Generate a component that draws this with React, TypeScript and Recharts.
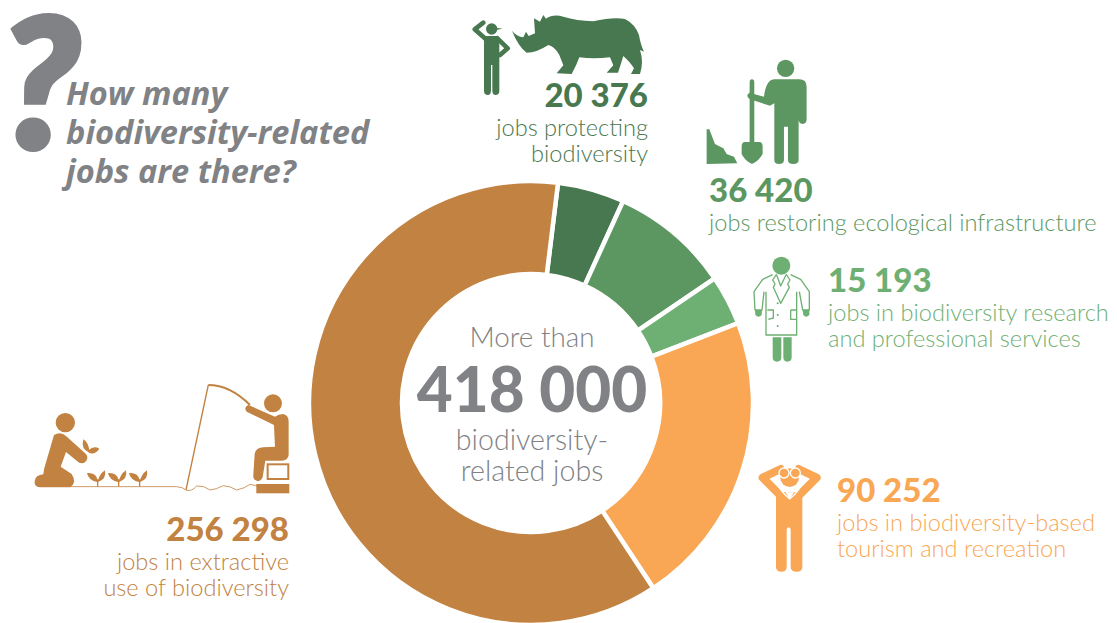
import { Cell, Pie, PieChart } from 'recharts'

const sectors = ['protecting', 'restoring', 'research', 'tourism', 'extractive']
const jobs = [20376, 36420, 15193, 90252, 256298]
const colours = ['#48784F', '#5C9762', '#6EB073', '#F9A754', '#C28241']
const grey = '#808285'
const font = 'Lato, sans-serif'

const jobLabels = ['20 376', '36 420', '15 193', '90 252', '256 298']
const captions = [
  ['jobs protecting', 'biodiversity'],
  ['jobs restoring ecological infrastructure'],
  ['jobs in biodiversity research', 'and professional services'],
  ['jobs in biodiversity-based', 'tourism and recreation'],
  ['jobs in extractive', 'use of biodiversity'],
]
const titleLines = ['How many', 'biodiversity-related', 'jobs are there?']
const centreLines = ['biodiversity-', 'related jobs']

const tableData = sectors.map((name, i) => ({ name, value: jobs[i] }))

function Callout({ i, x, y, anchor }: { i: number; x: number; y: number; anchor: 'start' | 'end' }) {
  return (
    <g fill={colours[i]} textAnchor={anchor} fontFamily={font}>
      <text x={x} y={y} fontSize={33} fontWeight={900}>{jobLabels[i]}</text>
      {captions[i].map((line, n) => (
        <text key={line} x={x} y={y + 29 + n * 25.5} fontSize={23.6} fontWeight={300}>{line}</text>
      ))}
    </g>
  )
}

// icons are traced at 3x, so each group scales back down
function RangerAndDigger() {
  return (
    <g transform="translate(460,0) scale(0.3333)">
      <g fill={colours[0]}>
        <circle cx={95} cy={87} r={17} />
        <path d="M95,82 L128,86 L95,92 Z" />
        <path d="M72,118 Q72,108 82,108 L108,108 Q118,108 118,118 L118,272 Q118,285 106,285 Q98,285 97,272 L97,195 L93,195 L93,272 Q92,285 84,285 Q72,285 72,272 Z" />
        <path d="M156,92 Q170,110 190,112 L198,95 L206,108 L225,100 L222,55 L240,65 L250,45 L258,56 Q280,40 310,50 Q350,62 400,64 Q460,50 495,57 Q525,72 537,105 Q542,135 552,155 L540,150 Q552,185 540,222 L513,222 L522,205 Q512,188 490,168 Q482,195 474,218 L440,218 L460,196 L450,172 Q400,178 358,172 Q350,195 335,222 L290,220 L310,196 L298,165 Q285,140 265,135 Q230,158 200,158 Q175,140 156,92 Z" />
      </g>
      <g fill="none" stroke={colours[0]} strokeWidth={14} strokeLinejoin="round" strokeLinecap="round">
        <path d="M78,118 L44,88 L70,68" />
        <path d="M112,115 L143,145 L120,165" />
      </g>
      <g fill={colours[1]}>
        <circle cx={977} cy={205} r={26} />
        <path d="M942,238 L1018,238 Q1040,238 1040,260 L1040,358 Q1040,372 1028,372 Q1016,372 1016,358 L1016,480 Q1016,492 1000,492 Q984,492 984,480 L984,380 L972,380 L972,480 Q972,492 957,492 Q943,492 943,480 L943,310 L930,317 L870,298 Q855,288 868,278 L912,290 Q918,240 942,238 Z" />
        <path d="M869,248 Q869,238 876,238 Q883,238 883,248 L883,426 L900,426 Q908,428 908,440 L908,462 Q895,485 876,492 Q857,485 845,462 L845,440 Q845,428 853,426 L869,426 Z" />
        <path d="M740,388 L748,388 L765,432 L790,445 L800,462 L822,470 L832,490 L740,492 Z" />
      </g>
    </g>
  )
}

const sproutXs = [233, 296, 359]

function Sprout({ x, y, scale = 1 }: { x: number; y: number; scale?: number }) {
  return (
    <g transform={`translate(${x},${y}) scale(${scale})`}>
      <path d="M0,28 Q-4,4 -32,6 Q-28,28 0,34 Z M0,34 Q4,10 22,-2 Q28,24 0,34 Z" />
      <rect x={-2} y={25} width={4} height={22} />
    </g>
  )
}

function GardenerAndFisher() {
  return (
    <g transform="translate(20,370) scale(0.3333)">
      <g fill={colours[4]}>
        <circle cx={136} cy={158} r={29} />
        <path d="M102,195 Q122,183 138,198 L198,252 Q208,265 195,277 Q182,284 170,272 L138,246 L122,290 L155,312 Q172,338 150,352 L60,352 Q42,350 44,333 Q46,315 70,313 L72,298 Z" />
        <path d="M190,208 Q208,218 208,248 Q182,238 190,208 Z M206,240 Q222,226 238,236 Q225,256 206,248 Z" />
        {sproutXs.map(x => <Sprout key={x} x={x} y={303} />)}
        <circle cx={759} cy={100} r={27} />
        <path d="M685,105 L765,140 Q775,132 790,132 Q806,136 806,155 L806,255 Q804,272 785,272 L736,272 L728,322 Q722,335 712,333 Q699,330 700,316 L704,252 Q708,232 730,232 L765,230 L762,165 L680,125 Q670,112 685,105 Z" />
        <rect x={709} y={342} width={99} height={28} />
      </g>
      <rect x={743} y={283} width={62} height={44} fill="none" stroke={colours[4]} strokeWidth={6} />
      <g fill="none" stroke={colours[4]}>
        <path d="M150,350 L470,350" strokeWidth={3} opacity={0.8} />
        <path d="M470,350 Q490,352 500,361 Q515,365 530,348 Q550,345 570,360 Q590,358 610,347 Q630,348 650,360 Q675,355 690,343 L712,348" strokeWidth={3} opacity={0.8} />
        <path d="M498,360 L565,45" strokeWidth={4} />
        <path d="M565,45 Q630,45 690,105" strokeWidth={6} />
      </g>
    </g>
  )
}

const buttonYs = [160, 195, 228]

function Scientist() {
  return (
    <g transform="translate(740,250) scale(0.3333)">
      <g fill={colours[2]}>
        <circle cx={124} cy={47} r={27} />
        <path d="M98,262 L124,262 L124,322 Q124,335 111,335 Q98,335 98,322 Z M130,262 L155,262 L155,322 Q155,335 142,335 Q130,335 130,322 Z" />
        <path d="M45,180 L66,180 L65,195 Q56,206 46,195 Z M188,180 L208,180 L208,195 Q198,206 190,195 Z" />
        {buttonYs.map(y => <circle key={y} cx={113} cy={y} r={3} />)}
      </g>
      <g fill="none" stroke={colours[2]} strokeWidth={4} strokeLinejoin="round">
        <path d="M98,74 L68,88 L42,125 L45,180 L66,180 L72,125 M152,74 L182,88 L208,125 L208,180 L188,180 L178,125" />
        <path d="M78,125 L78,255 L170,255 L170,125" />
        <path d="M110,72 L98,90 L105,102 L100,112 L122,160 L148,112 L143,102 L150,90 L138,72" />
        <path d="M110,75 L122,108 L138,75" />
        <path d="M82,180 L100,180 L100,204 L85,208 M152,180 L168,180 M152,180 L152,208 L168,208" />
      </g>
    </g>
  )
}

function Tourist() {
  return (
    <g transform="translate(750,455) scale(0.3333)">
      <g fill={colours[3]}>
        <path d="M78,112 L78,335 Q78,350 95,350 Q110,350 110,335 L110,222 Q116,212 122,222 L122,335 Q122,350 140,350 Q157,350 157,335 L157,112 Z" />
        <circle cx={119} cy={68} r={28} />
      </g>
      <path d="M88,118 L38,68 L92,42 M150,118 L200,68 L146,42" fill="none" stroke={colours[3]} strokeWidth={24} strokeLinejoin="round" strokeLinecap="round" />
      <path d="M78,72 Q84,104 119,132 Q154,104 160,72" fill="none" stroke="#fff" strokeWidth={4} />
      <g fill={colours[3]} stroke="#fff" strokeWidth={4}>
        <circle cx={102} cy={54} r={15} />
        <circle cx={136} cy={54} r={15} />
      </g>
      <path d="M106,112 L132,112 L119,132 Z" fill="#fff" />
    </g>
  )
}

export default function App() {
  return (
    <div style={{ position: 'absolute', left: 0, top: 0, width: 1117, height: 623, overflow: 'hidden', background: '#fff' }}>
      <PieChart width={1117} height={623} margin={{ top: 0, right: 0, bottom: 0, left: 0 }}>
        <Pie
          data={tableData}
          dataKey="value"
          nameKey="name"
          cx={531}
          cy={403}
          innerRadius={129}
          outerRadius={222}
          startAngle={83}
          endAngle={-277}
          stroke="#fff"
          strokeWidth={4.5}
          isAnimationActive={false}
        >
          {sectors.map((name, i) => <Cell key={name} fill={colours[i]} />)}
        </Pie>
      </PieChart>
      <svg width={1117} height={623} style={{ position: 'absolute', left: 0, top: 0, pointerEvents: 'none' }}>
        <text x={1} y={148} fontSize={180} fontWeight={900} fontStyle="italic" fontFamily={font} fill={grey} stroke={grey} strokeWidth={6}>?</text>
        <g fill={grey} fontFamily="'Open Sans', sans-serif" fontSize={32.6} fontWeight={700} fontStyle="italic">
          {titleLines.map((line, i) => <text key={line} x={66} y={105 + i * 39}>{line}</text>)}
        </g>
        <g fill={grey} fontFamily={font} textAnchor="middle">
          <text x={532} y={347} fontSize={27.8} fontWeight={300}>More than</text>
          <text x={532} y={412} fontSize={62} fontWeight={900}>418 000</text>
          {centreLines.map((line, i) => (
            <text key={line} x={532} y={450 + i * 31} fontSize={28.6} fontWeight={300}>{line}</text>
          ))}
        </g>
        <Callout i={0} x={648} y={107} anchor="end" />
        <Callout i={1} x={709} y={202} anchor="start" />
        <Callout i={2} x={828} y={292} anchor="start" />
        <Callout i={3} x={837} y={502} anchor="start" />
        <Callout i={4} x={289} y={541} anchor="end" />
        <RangerAndDigger />
        <GardenerAndFisher />
        <Scientist />
        <Tourist />
      </svg>
    </div>
  )
}
